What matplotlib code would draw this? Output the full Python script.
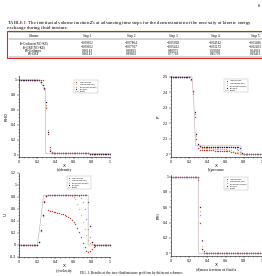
import numpy as np
import matplotlib
matplotlib.use('Agg')
import matplotlib.pyplot as plt
from matplotlib.patches import Rectangle
from matplotlib.lines import Line2D
from matplotlib.ticker import MultipleLocator, FormatStrFormatter

W, H = 262, 276  # page crop size in px

# ---------------- table ----------------
table_caption = ['TABLE I. The interfacial volume fraction $z_s$ at advancing time steps for the demonstration of the necessity of kinetic energy',
                 'exchange during fluid mixture.']
schemes = ['IS-Godunov(NO-KE)', 'IS-GRP(NO-KE)', 'ES-Godunov', 'ES-GRP']
steps = ['Step 1', 'Step 2', 'Step 3', 'Step 4', 'Step 5']
zs_is_godunov = [-0.09652, -0.07864, -0.05928, -0.04542, -0.03496]
zs_is_grp = [-0.09652, -0.07707, -0.05412, -0.03272, -0.02203]
zs_es_godunov = [0.96143, 0.90825, 0.80975, 0.69928, 0.54961]
zs_es_grp = [0.96143, 0.89862, 0.77718, 0.45793, 0.19413]

# ---------------- curves (cells on a 0.02 grid) ----------------
x = np.linspace(0, 1, 51)
labels = ['IS-Godunov', 'IS-GRP(NO-KE)', 'ES-Godunov(KE)', 'ES-GRP', 'Exact']

rho_is_godunov = [1.0]*14 + [0.88, 0.62, 0.28, 0.1, 0.035, 0.022] + [0.02]*19 + [0.016]*12
rho_is_grp = [1.0]*11 + [0.997, 0.965, 0.925, 0.885, 0.64, 0.3, 0.07, 0.025] + [0.02]*20 + [0.016]*12
rho_es_godunov = [1.0]*11 + [0.997, 0.965, 0.925, 0.885, 0.66, 0.33, 0.08, 0.03] + [0.02]*20 + [0.016]*12
rho_es_grp = [1.0]*11 + [0.997, 0.965, 0.925, 0.885, 0.70, 0.30, 0.05, 0.022] + [0.02]*20 + [0.016]*12
rho_exact_x = [0, 0.21, 0.23, 0.25, 0.27, 0.29, 0.29, 0.78, 0.78, 1]
rho_exact = [1, 1, 0.975, 0.94, 0.905, 0.88, 0.02, 0.02, 0.016, 0.016]

p_is_godunov = [2.5]*11 + [2.48, 2.39, 2.24, 2.10, 2.04, 2.03] + \
    [2.028, 2.027, 2.027, 2.026, 2.026, 2.025, 2.025, 2.024, 2.024, 2.023, 2.023, 2.022, 2.022] + \
    [2.021, 2.02, 2.019, 2.017, 2.015, 2.012, 2.009, 2.006, 2.003, 2.001, 2.0, 2.0] + [2.0]*9
p_is_grp = [2.5]*11 + [2.48, 2.40, 2.26, 2.12, 2.06, 2.045] + \
    [2.04, 2.04, 2.039, 2.039, 2.038, 2.038, 2.037, 2.037, 2.036, 2.036, 2.035, 2.035, 2.034] + \
    [2.033, 2.031, 2.029, 2.026, 2.022, 2.018, 2.013, 2.009, 2.005, 2.003, 2.001, 2.0] + [2.0]*9
p_es_godunov = [2.5]*11 + [2.48, 2.40, 2.26, 2.13, 2.07, 2.053] + [2.048]*17 + \
    [2.046, 2.043, 2.037, 2.028, 2.017, 2.008, 2.003, 2.001] + [2.0]*9
p_es_grp = [2.5]*11 + [2.485, 2.41, 2.27, 2.13, 2.065, 2.052] + [2.05]*21 + \
    [2.04, 2.012, 2.002] + [2.0]*10
p_exact_x = [0, 0.23, 0.25, 0.26, 0.27, 0.77, 0.77, 1]
p_exact = [2.5, 2.5, 2.35, 2.2, 2.055, 2.055, 2.0, 2.0]

u_is_godunov = [0.0]*10 + [0.005, 0.05, 0.24, 0.5, 0.74, 0.83] + \
    [0.58, 0.565, 0.56, 0.555, 0.55, 0.54, 0.53, 0.52, 0.51, 0.5,
     0.49, 0.47, 0.45, 0.42, 0.39, 0.35, 0.29, 0.22, 0.13, 0.04,
     -0.04, -0.1, -0.12, -0.1, -0.06, -0.03, -0.01, -0.003] + [0.0]*7
u_is_grp = [0.0]*10 + [0.005, 0.05, 0.24, 0.49, 0.71, 0.82] + [0.83]*13 + \
    [0.82, 0.8, 0.76, 0.69, 0.6, 0.5, 0.39, 0.27, 0.16, 0.08, 0.035, 0.012, 0.003] + [0.0]*9
u_es_godunov = [0.0]*10 + [0.005, 0.05, 0.24, 0.49, 0.71, 0.82] + [0.83]*17 + \
    [0.82, 0.79, 0.72, 0.6, 0.44, 0.27, 0.13, 0.05, 0.015, 0.004] + [0.0]*8
u_es_grp = [0.0]*10 + [0.005, 0.05, 0.25, 0.5, 0.72, 0.82] + [0.83]*22 + \
    [0.72, 0.32, 0.05, 0.005] + [0.0]*9
u_exact_x = [0, 0.2, 0.22, 0.24, 0.26, 0.27, 0.76, 0.76, 1]
u_exact = [0, 0, 0.2, 0.45, 0.7, 0.83, 0.83, 0, 0]

y_is_godunov = [1.0]*14 + [0.998, 0.96, 0.4, 0.17, 0.025, 0.002] + [0.0]*31
y_is_grp = [1.0]*15 + [0.98, 0.55, 0.1, 0.005] + [0.0]*32
y_es_godunov = [1.0]*15 + [0.975, 0.5, 0.16, 0.01] + [0.0]*32
y_es_grp = [1.0]*15 + [0.99, 0.6, 0.05, 0.002] + [0.0]*32
y_exact_x = [0, 0.3, 0.3, 1]
y_exact = [1, 1, 0, 0]

colors = ['#c43a36', '#f2b266', '#9a96dc', '#3a1e48']
exact_color = '#b8a8ae'

serif = ['Liberation Serif', 'DejaVu Serif']
plt.rcParams['font.family'] = 'DejaVu Sans'

fig = plt.figure(figsize=(W/100, H/100), dpi=100)


def fx(px):
    return px / W


def fy(py):
    return 1 - py / H


# page number
fig.text(fx(259), fy(6), '8', fontsize=3, family=serif, ha='center', va='center')

# table caption
fig.text(fx(7), fy(23), table_caption[0], fontsize=3.5, family=serif, va='center')
fig.text(fx(7), fy(27.8), table_caption[1], fontsize=3.5, family=serif, va='center')

# red box + rules
fig.add_artist(Rectangle((fx(7), fy(58.5)), fx(262) - fx(7) + 0.01, fy(30.5) - fy(58.5),
                         transform=fig.transFigure, fill=False, ec='#d8282a', lw=0.8))
for yy in [32.3, 38.8, 57.0]:
    fig.add_artist(Line2D([fx(8.5), 1.0], [fy(yy), fy(yy)], transform=fig.transFigure,
                          color='#333333', lw=0.3))

col_x = [34, 87, 131, 173, 215, 255]
fs_tab = 2.4
fig.text(fx(col_x[0]), fy(35.6), 'Scheme', fontsize=fs_tab, family=serif, ha='center', va='center')
for j, s in enumerate(steps):
    fig.text(fx(col_x[j + 1]), fy(35.6), s, fontsize=fs_tab, family=serif, ha='center', va='center')
rows = [zs_is_godunov, zs_is_grp, zs_es_godunov, zs_es_grp]
row_y = [43.2, 46.9, 50.6, 54.3]
for i, (name, vals) in enumerate(zip(schemes, rows)):
    fig.text(fx(col_x[0]), fy(row_y[i]), name, fontsize=fs_tab, family=serif, ha='center', va='center')
    for j, v in enumerate(vals):
        txt = ('%.5f' % v).replace('-', '\u2212')
        fig.text(fx(col_x[j + 1]), fy(row_y[i]), txt, fontsize=fs_tab, family=serif, ha='center', va='center')


def panel(rect, series, ex_x, ex_y, ylim, ystep, yname, caption, leg_anchor):
    ax = fig.add_axes(rect)
    for s, c, lab in zip(series, colors, labels[:4]):
        ax.plot(x, s, ls='none', marker='o', ms=1.0, mew=0, mfc=c, label=lab)
    ax.plot(ex_x, ex_y, color=exact_color, lw=0.4, label=labels[4])
    ax.set_xlim(0, 1)
    ax.set_ylim(*ylim)
    ax.xaxis.set_major_locator(MultipleLocator(0.2))
    ax.xaxis.set_minor_locator(MultipleLocator(0.05))
    ax.yaxis.set_major_locator(MultipleLocator(ystep))
    ax.yaxis.set_minor_locator(MultipleLocator(ystep / 4))
    ax.xaxis.set_major_formatter(FormatStrFormatter('%g'))
    ax.yaxis.set_major_formatter(FormatStrFormatter('%g'))
    ax.spines['top'].set_visible(False)
    ax.spines['right'].set_visible(False)
    for sp in ['left', 'bottom']:
        ax.spines[sp].set_linewidth(0.4)
    ax.tick_params(which='major', length=1.2, width=0.3, labelsize=2.3, pad=0.8)
    ax.tick_params(which='minor', length=0.7, width=0.25)
    ax.set_xlabel('X', fontsize=3, labelpad=0.5)
    ax.set_ylabel(yname, fontsize=3, labelpad=1.5)
    ax.text(0.5, -0.14, caption, transform=ax.transAxes, fontsize=2.8, family=serif,
            ha='center', va='top')
    leg = ax.legend(loc='upper right', bbox_to_anchor=leg_anchor, fontsize=1.5, frameon=True,
                    fancybox=False, edgecolor='#999999', handlelength=1.2, borderpad=0.6,
                    labelspacing=0.3, handletextpad=0.8, markerscale=0.9)
    leg.get_frame().set_linewidth(0.3)
    return ax


panel([fx(19), fy(157), 91 / W, 81 / H],
      [rho_is_godunov, rho_is_grp, rho_es_godunov, rho_es_grp], rho_exact_x, rho_exact,
      (-0.03, 1.05), 0.2, 'RHO', '(a)density', (0.88, 0.965))
panel([fx(171), fy(157), 91 / W, 81 / H],
      [p_is_godunov, p_is_grp, p_es_godunov, p_es_grp], p_exact_x, p_exact,
      (1.983, 2.505), 0.1, 'P', '(b)pressure', (0.86, 0.98))
panel([fx(19), fy(257), 91 / W, 84 / H],
      [u_is_godunov, u_is_grp, u_es_godunov, u_es_grp], u_exact_x, u_exact,
      (-0.2, 1.2), 0.2, 'U', '(c)velocity', (0.80, 0.975))
panel([fx(171), fy(256), 91 / W, 81 / H],
      [y_is_godunov, y_is_grp, y_es_godunov, y_es_grp], y_exact_x, y_exact,
      (-0.035, 1.02), 0.2, 'PHI', '(d)mass fraction of fluid a', (0.86, 0.99))

# figure caption at the bottom of the page crop
fig.text(fx(80), fy(273), 'FIG. 1. Results of the two-fluid mixture problem by different schemes.',
         fontsize=2.6, family=serif, va='center')

fig.savefig('out.png', dpi=100)
